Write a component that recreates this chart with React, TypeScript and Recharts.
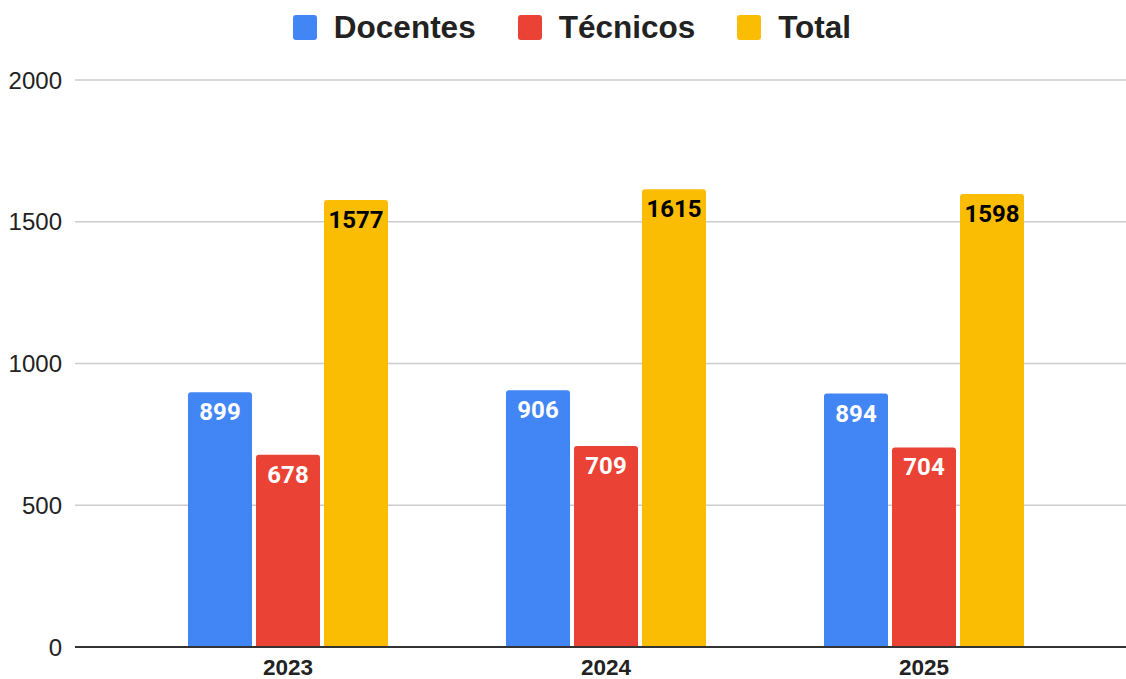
import React from 'react';
import { BarChart, Bar, XAxis, YAxis, CartesianGrid, LabelList, ReferenceLine } from 'recharts';

const years = ['2023', '2024', '2025'];
const docentes = [899, 906, 894];
const tecnicos = [678, 709, 704];
const total = [1577, 1615, 1598];
const yTicks = [0, 500, 1000, 1500, 2000];

const series = [
    { key: 'docentes', name: 'Docentes', color: '#4285f4', labelColor: '#ffffff' },
    { key: 'tecnicos', name: 'Técnicos', color: '#ea4335', labelColor: '#ffffff' },
    { key: 'total', name: 'Total', color: '#fbbc04', labelColor: '#000000' },
];

const data = years.map((year, i) => ({
    year,
    docentes: docentes[i],
    tecnicos: tecnicos[i],
    total: total[i],
}));

const W = 1126;
const H = 679;

const ChartLegend = () => (
    <div
        style={{
            position: 'absolute',
            top: 9,
            left: 9,
            width: W,
            display: 'flex',
            justifyContent: 'center',
            alignItems: 'center',
            fontFamily: '"Liberation Sans", Arial, sans-serif',
            fontWeight: 'bold',
            fontSize: 31.5,
            color: '#222',
        }}
    >
        {series.map((s, i) => (
            <div key={s.key} style={{ display: 'flex', alignItems: 'center', marginLeft: i === 0 ? 0 : 42 }}>
                <span style={{ width: 24, height: 25, background: s.color, borderRadius: 3, marginRight: 17, display: 'inline-block' }} />
                <span>{s.name}</span>
            </div>
        ))}
    </div>
);

export default function App() {
    return (
        <div style={{ position: 'absolute', left: 0, top: 0, width: W, height: H, background: '#fff', overflow: 'hidden' }}>
            <ChartLegend />
            <BarChart
                width={W}
                height={H}
                data={data}
                margin={{ top: 80, right: 0, bottom: 0, left: 0 }}
                barGap={4}
            >
                <CartesianGrid vertical={false} stroke="#cccccc" strokeWidth={1.5} />
                <XAxis
                    dataKey="year"
                    height={32}
                    padding={{ left: 54, right: 43 }}
                    axisLine={false}
                    tickLine={false}
                    tickMargin={6}
                    tick={{ fontSize: 22.5, fontWeight: 'bold', fill: '#222', fontFamily: '"Liberation Sans", Arial, sans-serif' }}
                />
                <YAxis
                    width={75}
                    domain={[0, 2000]}
                    ticks={yTicks}
                    axisLine={false}
                    tickLine={false}
                    tickSize={0}
                    tickMargin={13}
                    tick={{ fontSize: 24, fill: '#222', fontFamily: '"Liberation Sans", Arial, sans-serif' }}
                />
                {series.map((s) => (
                    <Bar
                        key={s.key}
                        dataKey={s.key}
                        name={s.name}
                        fill={s.color}
                        barSize={64}
                        radius={[3, 3, 0, 0]}
                        isAnimationActive={false}
                    >
                        <LabelList
                            dataKey={s.key}
                            position="insideTop"
                            offset={11}
                            fill={s.labelColor}
                            style={{ fontSize: 24, fontWeight: 'bold', fontFamily: 'Roboto, sans-serif' }}
                        />
                    </Bar>
                ))}
                <ReferenceLine y={0} stroke="#333333" strokeWidth={2} />
            </BarChart>
        </div>
    );
}
